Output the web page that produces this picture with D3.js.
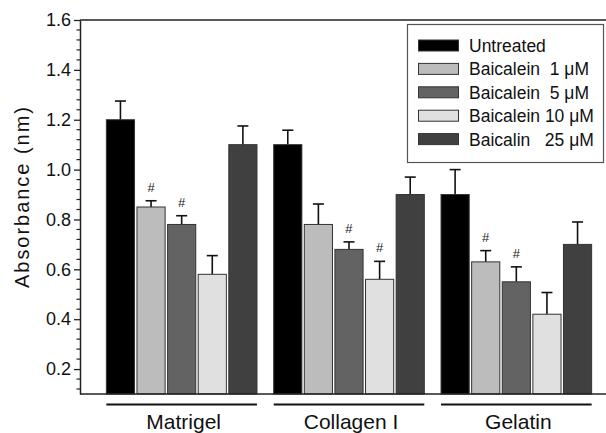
<!DOCTYPE html>
<html><head><meta charset="utf-8">
<script src="https://cdn.jsdelivr.net/npm/d3@7"></script>
<style>body{margin:0;background:#fff}svg{display:block}text{font-family:"Liberation Sans",Arial,sans-serif}</style>
</head><body><svg id="c" width="606" height="433"></svg>
<script>
const groups = ["Matrigel", "Collagen I", "Gelatin"];
const series = ["Untreated", "Baicalein  1 \u03bcM", "Baicalein  5 \u03bcM", "Baicalein 10 \u03bcM", "Baicalin   25 \u03bcM"];
const seriesColors = ["#000000", "#bcbcbc", "#636363", "#e0e0e0", "#404040"];
const values = {
  "Matrigel":   [1.20, 0.85, 0.78, 0.58, 1.10],
  "Collagen I": [1.10, 0.78, 0.68, 0.56, 0.90],
  "Gelatin":    [0.90, 0.63, 0.55, 0.42, 0.70]
};
const errors = {
  "Matrigel":   [0.075, 0.025, 0.035, 0.075, 0.075],
  "Collagen I": [0.058, 0.082, 0.030, 0.072, 0.070],
  "Gelatin":    [0.100, 0.045, 0.060, 0.087, 0.090]
};
const marked = {
  "Matrigel":   [false, true, true, false, false],
  "Collagen I": [false, false, true, true, false],
  "Gelatin":    [false, true, true, false, false]
};
const yTicks = [0.2, 0.4, 0.6, 0.8, 1.0, 1.2, 1.4, 1.6];
const yTitle = "Absorbance (nm)";

const svg = d3.select("#c");
const mLeft = 80, mRight = 606, mTop = 20, mBottom = 394;
const y = d3.scaleLinear().domain([0.1, 1.6]).range([mBottom, mTop]);
const x0 = d3.scaleBand().domain(groups).range([98, 600]).paddingInner(0.1).paddingOuter(0.05);
const x1 = d3.scaleBand().domain(series).range([0, x0.bandwidth()]).paddingInner(0.08);
const color = d3.scaleOrdinal().domain(series).range(seriesColors);

svg.append("line").attr("x1", mLeft).attr("x2", mRight).attr("y1", mTop).attr("y2", mTop).attr("stroke", "#222").attr("stroke-width", 1.5);

groups.forEach(g => {
  const gg = svg.append("g").attr("transform", `translate(${x0(g)},0)`);
  series.forEach((s, i) => {
    const v = values[g][i], e = errors[g][i];
    const bx = x1(s), bw = x1.bandwidth(), cx = bx + bw / 2;
    gg.append("line").attr("x1", cx).attr("x2", cx).attr("y1", y(v)).attr("y2", y(v + e)).attr("stroke", "#111").attr("stroke-width", 1.6);
    gg.append("line").attr("x1", cx - 5.5).attr("x2", cx + 5.5).attr("y1", y(v + e)).attr("y2", y(v + e)).attr("stroke", "#111").attr("stroke-width", 1.6);
    gg.append("rect").attr("x", bx).attr("y", y(v)).attr("width", bw).attr("height", y(0.1) - y(v))
      .attr("fill", color(s)).attr("stroke", "#333").attr("stroke-width", 1);
    if (marked[g][i]) {
      gg.append("text").attr("x", cx).attr("y", y(v + e) - 9).attr("text-anchor", "middle")
        .attr("font-size", 13).attr("fill", "#222").text("#");
    }
  });
  svg.append("line").attr("x1", x0(g)).attr("x2", x0(g) + x0.bandwidth()).attr("y1", 404.5).attr("y2", 404.5)
    .attr("stroke", "#111").attr("stroke-width", 2);
  svg.append("text").attr("x", x0(g) + x0.bandwidth() / 2 + 2).attr("y", 428.5).attr("text-anchor", "middle")
    .attr("font-size", 21).attr("fill", "#111").text(g);
});

svg.append("line").attr("x1", mLeft).attr("x2", mRight).attr("y1", mBottom).attr("y2", mBottom).attr("stroke", "#222").attr("stroke-width", 1.5);

const yAxis = d3.axisLeft(y).tickValues(yTicks).tickFormat(d3.format(".1f")).tickSize(6).tickSizeOuter(0);
const ya = svg.append("g").attr("transform", `translate(${mLeft},0)`).call(yAxis);
ya.select(".domain").attr("stroke", "#222").attr("stroke-width", 1.5);
ya.selectAll(".tick line").attr("stroke", "#222").attr("stroke-width", 1.3);
ya.selectAll(".tick text").attr("font-size", 18).attr("fill", "#111").attr("x", -9).attr("font-family", '"Liberation Sans",Arial,sans-serif');
const minor = d3.range(0.12, 1.6, 0.04).filter(v => !yTicks.some(t => Math.abs(t - v) < 1e-6));
svg.append("g").selectAll("line").data(minor).join("line")
  .attr("x1", mLeft - 3.5).attr("x2", mLeft).attr("y1", d => y(d)).attr("y2", d => y(d))
  .attr("stroke", "#222").attr("stroke-width", 1.2);

svg.append("text").attr("transform", `translate(29,197.5) rotate(-90)`).attr("text-anchor", "middle")
  .attr("font-size", 20).attr("textLength", 181).attr("lengthAdjust", "spacing").attr("fill", "#111").text(yTitle);

const lg = svg.append("g");
lg.append("rect").attr("x", 407.5).attr("y", 24.5).attr("width", 196).attr("height", 138)
  .attr("fill", "#fff").attr("stroke", "#555").attr("stroke-width", 1.2);
series.forEach((s, i) => {
  const cy = 45.5 + i * 23.4;
  lg.append("rect").attr("x", 418.5).attr("y", cy - 5.5).attr("width", 40).attr("height", 11)
    .attr("fill", color(s)).attr("stroke", "#333").attr("stroke-width", 1);
  lg.append("text").attr("x", 469).attr("y", cy + 6.5).attr("font-size", 17.5).attr("fill", "#111")
    .style("white-space", "pre").text(s);
});
</script></body></html>
